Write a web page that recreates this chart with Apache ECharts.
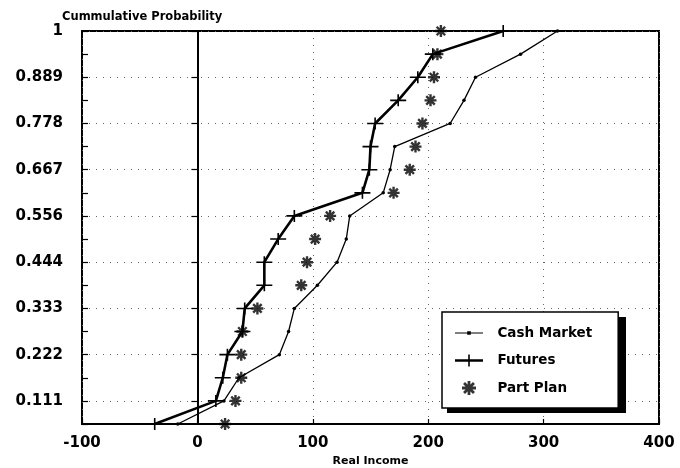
<!DOCTYPE html>
<html><head><meta charset="utf-8">
<script src="https://cdn.jsdelivr.net/npm/echarts@6/dist/echarts.min.js"></script>
<style>html,body{margin:0;padding:0;background:#fff}#c{width:680px;height:468px}</style>
</head><body><div id="c"></div>
<script>
const probabilities = [0.0556, 0.1111, 0.1667, 0.2222, 0.2778, 0.3333, 0.3889, 0.4444, 0.5, 0.5556, 0.6111, 0.6667, 0.7222, 0.7778, 0.8333, 0.8889, 0.9444, 1];
const cashMarket = [-17, 23, 36, 71, 79, 84, 104, 121, 129, 132, 161, 167, 171, 219, 231, 241, 280, 312];
const futures = [-37, 16, 22, 26, 39, 41, 58, 58, 70, 84, 143, 149, 150, 154, 174, 191, 204, 265];
const partPlan = [24, 33, 38, 38, 39, 52, 90, 95, 102, 115, 170, 184, 189, 195, 202, 205, 208, 211];
const yTickValues = [0.1111, 0.2222, 0.3333, 0.4444, 0.5556, 0.6667, 0.7778, 0.8889, 1];
const yTickLabels = ['0.111', '0.222', '0.333', '0.444', '0.556', '0.667', '0.778', '0.889', '1'];
const seriesNames = ['Cash Market', 'Futures', 'Part Plan'];

const FONT = 'DejaVu Sans';
const plusPath = 'path://M0,5.2H16V6.8H0Z M7.2,0H8.8V12H7.2Z';
const starPath = 'path://M0,8H20V12H0Z M8,0H12V20H8Z M4.34,1.51L18.49,15.66L15.66,18.49L1.51,4.34Z M15.66,1.51L18.49,4.34L4.34,18.49L1.51,15.66Z';
const cashIcon = 'path://M0,6.4H28V7.6H0Z M12.2,5.2H15.8V8.8H12.2Z';
const futuresIcon = 'path://M0,5.7H28V8.3H0Z M13.2,1H14.8V13H13.2Z';
const pair = arr => probabilities.map((p, i) => [arr[i], p]);
const dotted = { color: '#666', width: 1, type: [1, 6] };

const chart = echarts.init(document.getElementById('c'), null, { renderer: 'canvas' });
chart.setOption({
  animation: false,
  backgroundColor: '#fff',
  title: {
    text: 'Cummulative Probability', left: 57, top: 6,
    textStyle: { fontFamily: FONT, fontWeight: 'bold', fontSize: 11.5, color: '#000' }
  },
  graphic: [{
    type: 'rect', left: 447, top: 317, z: 3, silent: true,
    shape: { width: 179, height: 96 }, style: { fill: '#000' }
  }],
  grid: {
    left: 82, right: 21, top: 31, bottom: 44, containLabel: false, outerBoundsMode: 'none',
    show: true, borderColor: '#000', borderWidth: 2, backgroundColor: 'transparent'
  },
  xAxis: {
    type: 'value', min: -100, max: 400, interval: 100,
    axisLine: { show: true, lineStyle: { color: '#000', width: 2 } },
    axisTick: { show: true, inside: true, length: 5, lineStyle: { color: '#000', width: 1.2 } },
    axisLabel: { margin: 12, fontFamily: FONT, fontWeight: 'bold', fontSize: 15, color: '#000' },
    splitLine: { show: true, lineStyle: dotted },
    name: 'Real Income', nameLocation: 'middle', nameGap: 31,
    nameTextStyle: { fontFamily: FONT, fontWeight: 'bold', fontSize: 11, color: '#000' }
  },
  yAxis: [{
    type: 'value', min: 1 / 18, max: 1, position: 'left', offset: 0,
    axisLine: { show: true, lineStyle: { color: '#000', width: 2 } },
    axisTick: { show: true, inside: false, length: 6, customValues: yTickValues, lineStyle: { color: '#000', width: 1.2 } },
    axisLabel: {
      customValues: yTickValues, margin: 19, fontFamily: FONT, fontWeight: 'bold', fontSize: 15, color: '#000',
      formatter: v => { const i = yTickValues.findIndex(t => Math.abs(t - v) < 1e-3); return i >= 0 ? yTickLabels[i] : ''; }
    },
    splitLine: { show: true, lineStyle: dotted }
  }, {
    type: 'value', min: 1 / 18, max: 1, interval: 1 / 18, position: 'left', offset: 0,
    axisLine: { show: false },
    axisTick: { show: true, inside: true, length: 6, lineStyle: { color: '#000', width: 1.2 } },
    axisLabel: { show: false },
    splitLine: { show: false }
  }],
  legend: {
    orient: 'vertical', left: 442, top: 312, z: 4,
    itemWidth: 28, itemHeight: 14, itemGap: 13.5,
    padding: [14, 26, 13, 13],
    backgroundColor: '#fff', borderColor: '#000', borderWidth: 1.5,
    textStyle: { fontFamily: FONT, fontWeight: 'bold', fontSize: 13.5, color: '#000' },
    formatter: n => '  ' + n,
    data: [
      { name: seriesNames[0], icon: cashIcon },
      { name: seriesNames[1], icon: futuresIcon },
      { name: seriesNames[2] }
    ]
  },
  series: [{
    name: seriesNames[0], type: 'line', data: pair(cashMarket),
    symbol: 'circle', symbolSize: 3.5, showAllSymbol: true,
    lineStyle: { color: '#000', width: 1.3 }, itemStyle: { color: '#000' },
    markLine: { silent: true, symbol: 'none', label: { show: false }, lineStyle: { color: '#000', width: 1.5, type: 'solid' }, data: [{ xAxis: 0 }] },
    z: 3
  }, {
    name: seriesNames[1], type: 'line', data: pair(futures),
    symbol: plusPath, symbolSize: [16, 12], showAllSymbol: true,
    lineStyle: { color: '#000', width: 2.6 }, itemStyle: { color: '#000' },
    z: 4
  }, {
    name: seriesNames[2], type: 'scatter', data: pair(partPlan),
    symbol: starPath, symbolSize: 12,
    itemStyle: { color: '#000' },
    z: 5
  }]
});
</script></body></html>
